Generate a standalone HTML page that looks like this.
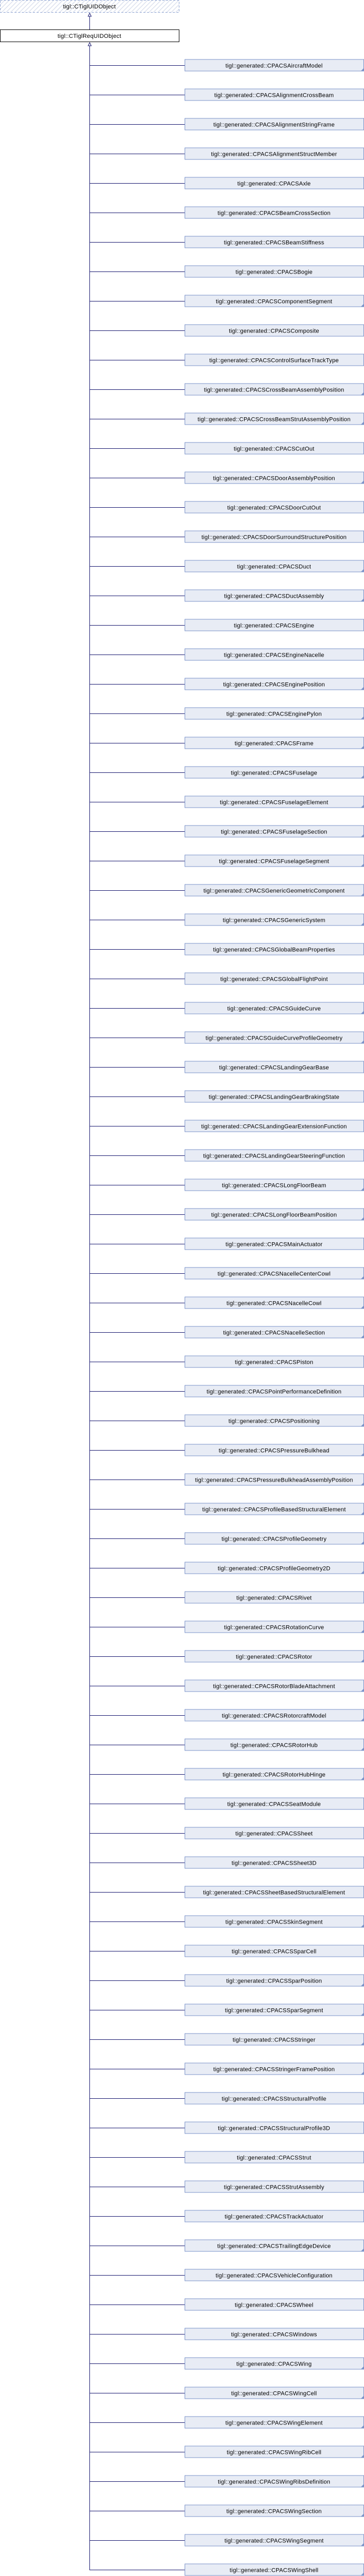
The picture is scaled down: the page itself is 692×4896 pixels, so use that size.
<!DOCTYPE html>
<html><head><meta charset="utf-8"><style>
html,body{margin:0;padding:0;background:#fff;}
svg{display:block;}
text{font-family:"Liberation Sans",sans-serif;font-size:11px;letter-spacing:0.2px;fill:#000;}
.b{fill:#e8ecf5;stroke:#7b93c9;stroke-width:1;}
.f{fill:#7b93c9;}
.c{stroke:#191970;stroke-width:1;fill:none;}
</style></head><body>
<svg width="692" height="4896" viewBox="0 0 692 4896" xmlns="http://www.w3.org/2000/svg">
<defs>
<pattern id="h" width="6" height="6" patternUnits="userSpaceOnUse" patternTransform="rotate(45)">
<rect width="6" height="6" fill="#fff"/><line x1="0" y1="0" x2="0" y2="6" stroke="#dde2ee" stroke-width="3"/>
</pattern>
</defs>
<rect x="0.5" y="0.5" width="340" height="23" fill="url(#h)" stroke="#8aa0d0" stroke-dasharray="4,3"/>
<text x="170" y="16" text-anchor="middle">tigl::CTiglUIDObject</text>
<line class="c" x1="170.5" y1="30" x2="170.5" y2="56"/>
<polygon points="170.5,25 167.5,31 173.5,31" fill="#fff" stroke="#191970"/>
<rect x="0.5" y="56.5" width="340" height="23" fill="#fff" stroke="#000"/>
<text x="170" y="72" text-anchor="middle">tigl::CTiglReqUIDObject</text>
<line class="c" x1="170.5" y1="86" x2="170.5" y2="4884"/>
<polygon points="170.5,81 167.5,87 173.5,87" fill="#fff" stroke="#191970"/>
<g id="rows">
<line class="c" x1="170" y1="124.5" x2="351" y2="124.5"/><rect class="b" x="351.5" y="113" width="340" height="22"/><text x="521" y="128.5" text-anchor="middle">tigl::generated::CPACSAircraftModel</text><polygon class="f" points="691,130 691,135.5 685.5,135.5"/>
<line class="c" x1="170" y1="180.5" x2="351" y2="180.5"/><rect class="b" x="351.5" y="169" width="340" height="22"/><text x="521" y="184.5" text-anchor="middle">tigl::generated::CPACSAlignmentCrossBeam</text>
<line class="c" x1="170" y1="236.5" x2="351" y2="236.5"/><rect class="b" x="351.5" y="225" width="340" height="22"/><text x="521" y="240.5" text-anchor="middle">tigl::generated::CPACSAlignmentStringFrame</text>
<line class="c" x1="170" y1="292.5" x2="351" y2="292.5"/><rect class="b" x="351.5" y="281" width="340" height="22"/><text x="521" y="296.5" text-anchor="middle">tigl::generated::CPACSAlignmentStructMember</text>
<line class="c" x1="170" y1="348.5" x2="351" y2="348.5"/><rect class="b" x="351.5" y="337" width="340" height="22"/><text x="521" y="352.5" text-anchor="middle">tigl::generated::CPACSAxle</text>
<line class="c" x1="170" y1="404.5" x2="351" y2="404.5"/><rect class="b" x="351.5" y="393" width="340" height="22"/><text x="521" y="408.5" text-anchor="middle">tigl::generated::CPACSBeamCrossSection</text>
<line class="c" x1="170" y1="460.5" x2="351" y2="460.5"/><rect class="b" x="351.5" y="449" width="340" height="22"/><text x="521" y="464.5" text-anchor="middle">tigl::generated::CPACSBeamStiffness</text>
<line class="c" x1="170" y1="516.5" x2="351" y2="516.5"/><rect class="b" x="351.5" y="505" width="340" height="22"/><text x="521" y="520.5" text-anchor="middle">tigl::generated::CPACSBogie</text>
<line class="c" x1="170" y1="572.5" x2="351" y2="572.5"/><rect class="b" x="351.5" y="561" width="340" height="22"/><text x="521" y="576.5" text-anchor="middle">tigl::generated::CPACSComponentSegment</text><polygon class="f" points="691,578 691,583.5 685.5,583.5"/>
<line class="c" x1="170" y1="628.5" x2="351" y2="628.5"/><rect class="b" x="351.5" y="617" width="340" height="22"/><text x="521" y="632.5" text-anchor="middle">tigl::generated::CPACSComposite</text>
<line class="c" x1="170" y1="684.5" x2="351" y2="684.5"/><rect class="b" x="351.5" y="673" width="340" height="22"/><text x="521" y="688.5" text-anchor="middle">tigl::generated::CPACSControlSurfaceTrackType</text>
<line class="c" x1="170" y1="740.5" x2="351" y2="740.5"/><rect class="b" x="351.5" y="729" width="340" height="22"/><text x="521" y="744.5" text-anchor="middle">tigl::generated::CPACSCrossBeamAssemblyPosition</text><polygon class="f" points="691,746 691,751.5 685.5,751.5"/>
<line class="c" x1="170" y1="796.5" x2="351" y2="796.5"/><rect class="b" x="351.5" y="785" width="340" height="22"/><text x="521" y="800.5" text-anchor="middle">tigl::generated::CPACSCrossBeamStrutAssemblyPosition</text><polygon class="f" points="691,802 691,807.5 685.5,807.5"/>
<line class="c" x1="170" y1="852.5" x2="351" y2="852.5"/><rect class="b" x="351.5" y="841" width="340" height="22"/><text x="521" y="856.5" text-anchor="middle">tigl::generated::CPACSCutOut</text>
<line class="c" x1="170" y1="908.5" x2="351" y2="908.5"/><rect class="b" x="351.5" y="897" width="340" height="22"/><text x="521" y="912.5" text-anchor="middle">tigl::generated::CPACSDoorAssemblyPosition</text><polygon class="f" points="691,914 691,919.5 685.5,919.5"/>
<line class="c" x1="170" y1="964.5" x2="351" y2="964.5"/><rect class="b" x="351.5" y="953" width="340" height="22"/><text x="521" y="968.5" text-anchor="middle">tigl::generated::CPACSDoorCutOut</text>
<line class="c" x1="170" y1="1020.5" x2="351" y2="1020.5"/><rect class="b" x="351.5" y="1009" width="340" height="22"/><text x="521" y="1024.5" text-anchor="middle">tigl::generated::CPACSDoorSurroundStructurePosition</text>
<line class="c" x1="170" y1="1076.5" x2="351" y2="1076.5"/><rect class="b" x="351.5" y="1065" width="340" height="22"/><text x="521" y="1080.5" text-anchor="middle">tigl::generated::CPACSDuct</text><polygon class="f" points="691,1082 691,1087.5 685.5,1087.5"/>
<line class="c" x1="170" y1="1132.5" x2="351" y2="1132.5"/><rect class="b" x="351.5" y="1121" width="340" height="22"/><text x="521" y="1136.5" text-anchor="middle">tigl::generated::CPACSDuctAssembly</text><polygon class="f" points="691,1138 691,1143.5 685.5,1143.5"/>
<line class="c" x1="170" y1="1188.5" x2="351" y2="1188.5"/><rect class="b" x="351.5" y="1177" width="340" height="22"/><text x="521" y="1192.5" text-anchor="middle">tigl::generated::CPACSEngine</text>
<line class="c" x1="170" y1="1244.5" x2="351" y2="1244.5"/><rect class="b" x="351.5" y="1233" width="340" height="22"/><text x="521" y="1248.5" text-anchor="middle">tigl::generated::CPACSEngineNacelle</text>
<line class="c" x1="170" y1="1300.5" x2="351" y2="1300.5"/><rect class="b" x="351.5" y="1289" width="340" height="22"/><text x="521" y="1304.5" text-anchor="middle">tigl::generated::CPACSEnginePosition</text><polygon class="f" points="691,1306 691,1311.5 685.5,1311.5"/>
<line class="c" x1="170" y1="1356.5" x2="351" y2="1356.5"/><rect class="b" x="351.5" y="1345" width="340" height="22"/><text x="521" y="1360.5" text-anchor="middle">tigl::generated::CPACSEnginePylon</text><polygon class="f" points="691,1362 691,1367.5 685.5,1367.5"/>
<line class="c" x1="170" y1="1412.5" x2="351" y2="1412.5"/><rect class="b" x="351.5" y="1401" width="340" height="22"/><text x="521" y="1416.5" text-anchor="middle">tigl::generated::CPACSFrame</text><polygon class="f" points="691,1418 691,1423.5 685.5,1423.5"/>
<line class="c" x1="170" y1="1468.5" x2="351" y2="1468.5"/><rect class="b" x="351.5" y="1457" width="340" height="22"/><text x="521" y="1472.5" text-anchor="middle">tigl::generated::CPACSFuselage</text><polygon class="f" points="691,1474 691,1479.5 685.5,1479.5"/>
<line class="c" x1="170" y1="1524.5" x2="351" y2="1524.5"/><rect class="b" x="351.5" y="1513" width="340" height="22"/><text x="521" y="1528.5" text-anchor="middle">tigl::generated::CPACSFuselageElement</text><polygon class="f" points="691,1530 691,1535.5 685.5,1535.5"/>
<line class="c" x1="170" y1="1580.5" x2="351" y2="1580.5"/><rect class="b" x="351.5" y="1569" width="340" height="22"/><text x="521" y="1584.5" text-anchor="middle">tigl::generated::CPACSFuselageSection</text><polygon class="f" points="691,1586 691,1591.5 685.5,1591.5"/>
<line class="c" x1="170" y1="1636.5" x2="351" y2="1636.5"/><rect class="b" x="351.5" y="1625" width="340" height="22"/><text x="521" y="1640.5" text-anchor="middle">tigl::generated::CPACSFuselageSegment</text><polygon class="f" points="691,1642 691,1647.5 685.5,1647.5"/>
<line class="c" x1="170" y1="1692.5" x2="351" y2="1692.5"/><rect class="b" x="351.5" y="1681" width="340" height="22"/><text x="521" y="1696.5" text-anchor="middle">tigl::generated::CPACSGenericGeometricComponent</text><polygon class="f" points="691,1698 691,1703.5 685.5,1703.5"/>
<line class="c" x1="170" y1="1748.5" x2="351" y2="1748.5"/><rect class="b" x="351.5" y="1737" width="340" height="22"/><text x="521" y="1752.5" text-anchor="middle">tigl::generated::CPACSGenericSystem</text><polygon class="f" points="691,1754 691,1759.5 685.5,1759.5"/>
<line class="c" x1="170" y1="1804.5" x2="351" y2="1804.5"/><rect class="b" x="351.5" y="1793" width="340" height="22"/><text x="521" y="1808.5" text-anchor="middle">tigl::generated::CPACSGlobalBeamProperties</text>
<line class="c" x1="170" y1="1860.5" x2="351" y2="1860.5"/><rect class="b" x="351.5" y="1849" width="340" height="22"/><text x="521" y="1864.5" text-anchor="middle">tigl::generated::CPACSGlobalFlightPoint</text>
<line class="c" x1="170" y1="1916.5" x2="351" y2="1916.5"/><rect class="b" x="351.5" y="1905" width="340" height="22"/><text x="521" y="1920.5" text-anchor="middle">tigl::generated::CPACSGuideCurve</text><polygon class="f" points="691,1922 691,1927.5 685.5,1927.5"/>
<line class="c" x1="170" y1="1972.5" x2="351" y2="1972.5"/><rect class="b" x="351.5" y="1961" width="340" height="22"/><text x="521" y="1976.5" text-anchor="middle">tigl::generated::CPACSGuideCurveProfileGeometry</text><polygon class="f" points="691,1978 691,1983.5 685.5,1983.5"/>
<line class="c" x1="170" y1="2028.5" x2="351" y2="2028.5"/><rect class="b" x="351.5" y="2017" width="340" height="22"/><text x="521" y="2032.5" text-anchor="middle">tigl::generated::CPACSLandingGearBase</text>
<line class="c" x1="170" y1="2084.5" x2="351" y2="2084.5"/><rect class="b" x="351.5" y="2073" width="340" height="22"/><text x="521" y="2088.5" text-anchor="middle">tigl::generated::CPACSLandingGearBrakingState</text>
<line class="c" x1="170" y1="2140.5" x2="351" y2="2140.5"/><rect class="b" x="351.5" y="2129" width="340" height="22"/><text x="521" y="2144.5" text-anchor="middle">tigl::generated::CPACSLandingGearExtensionFunction</text>
<line class="c" x1="170" y1="2196.5" x2="351" y2="2196.5"/><rect class="b" x="351.5" y="2185" width="340" height="22"/><text x="521" y="2200.5" text-anchor="middle">tigl::generated::CPACSLandingGearSteeringFunction</text>
<line class="c" x1="170" y1="2252.5" x2="351" y2="2252.5"/><rect class="b" x="351.5" y="2241" width="340" height="22"/><text x="521" y="2256.5" text-anchor="middle">tigl::generated::CPACSLongFloorBeam</text><polygon class="f" points="691,2258 691,2263.5 685.5,2263.5"/>
<line class="c" x1="170" y1="2308.5" x2="351" y2="2308.5"/><rect class="b" x="351.5" y="2297" width="340" height="22"/><text x="521" y="2312.5" text-anchor="middle">tigl::generated::CPACSLongFloorBeamPosition</text><polygon class="f" points="691,2314 691,2319.5 685.5,2319.5"/>
<line class="c" x1="170" y1="2364.5" x2="351" y2="2364.5"/><rect class="b" x="351.5" y="2353" width="340" height="22"/><text x="521" y="2368.5" text-anchor="middle">tigl::generated::CPACSMainActuator</text>
<line class="c" x1="170" y1="2420.5" x2="351" y2="2420.5"/><rect class="b" x="351.5" y="2409" width="340" height="22"/><text x="521" y="2424.5" text-anchor="middle">tigl::generated::CPACSNacelleCenterCowl</text><polygon class="f" points="691,2426 691,2431.5 685.5,2431.5"/>
<line class="c" x1="170" y1="2476.5" x2="351" y2="2476.5"/><rect class="b" x="351.5" y="2465" width="340" height="22"/><text x="521" y="2480.5" text-anchor="middle">tigl::generated::CPACSNacelleCowl</text><polygon class="f" points="691,2482 691,2487.5 685.5,2487.5"/>
<line class="c" x1="170" y1="2532.5" x2="351" y2="2532.5"/><rect class="b" x="351.5" y="2521" width="340" height="22"/><text x="521" y="2536.5" text-anchor="middle">tigl::generated::CPACSNacelleSection</text><polygon class="f" points="691,2538 691,2543.5 685.5,2543.5"/>
<line class="c" x1="170" y1="2588.5" x2="351" y2="2588.5"/><rect class="b" x="351.5" y="2577" width="340" height="22"/><text x="521" y="2592.5" text-anchor="middle">tigl::generated::CPACSPiston</text>
<line class="c" x1="170" y1="2644.5" x2="351" y2="2644.5"/><rect class="b" x="351.5" y="2633" width="340" height="22"/><text x="521" y="2648.5" text-anchor="middle">tigl::generated::CPACSPointPerformanceDefinition</text>
<line class="c" x1="170" y1="2700.5" x2="351" y2="2700.5"/><rect class="b" x="351.5" y="2689" width="340" height="22"/><text x="521" y="2704.5" text-anchor="middle">tigl::generated::CPACSPositioning</text><polygon class="f" points="691,2706 691,2711.5 685.5,2711.5"/>
<line class="c" x1="170" y1="2756.5" x2="351" y2="2756.5"/><rect class="b" x="351.5" y="2745" width="340" height="22"/><text x="521" y="2760.5" text-anchor="middle">tigl::generated::CPACSPressureBulkhead</text><polygon class="f" points="691,2762 691,2767.5 685.5,2767.5"/>
<line class="c" x1="170" y1="2812.5" x2="351" y2="2812.5"/><rect class="b" x="351.5" y="2801" width="340" height="22"/><text x="521" y="2816.5" text-anchor="middle">tigl::generated::CPACSPressureBulkheadAssemblyPosition</text><polygon class="f" points="691,2818 691,2823.5 685.5,2823.5"/>
<line class="c" x1="170" y1="2868.5" x2="351" y2="2868.5"/><rect class="b" x="351.5" y="2857" width="340" height="22"/><text x="521" y="2872.5" text-anchor="middle">tigl::generated::CPACSProfileBasedStructuralElement</text><polygon class="f" points="691,2874 691,2879.5 685.5,2879.5"/>
<line class="c" x1="170" y1="2924.5" x2="351" y2="2924.5"/><rect class="b" x="351.5" y="2913" width="340" height="22"/><text x="521" y="2928.5" text-anchor="middle">tigl::generated::CPACSProfileGeometry</text><polygon class="f" points="691,2930 691,2935.5 685.5,2935.5"/>
<line class="c" x1="170" y1="2980.5" x2="351" y2="2980.5"/><rect class="b" x="351.5" y="2969" width="340" height="22"/><text x="521" y="2984.5" text-anchor="middle">tigl::generated::CPACSProfileGeometry2D</text><polygon class="f" points="691,2986 691,2991.5 685.5,2991.5"/>
<line class="c" x1="170" y1="3036.5" x2="351" y2="3036.5"/><rect class="b" x="351.5" y="3025" width="340" height="22"/><text x="521" y="3040.5" text-anchor="middle">tigl::generated::CPACSRivet</text>
<line class="c" x1="170" y1="3092.5" x2="351" y2="3092.5"/><rect class="b" x="351.5" y="3081" width="340" height="22"/><text x="521" y="3096.5" text-anchor="middle">tigl::generated::CPACSRotationCurve</text><polygon class="f" points="691,3098 691,3103.5 685.5,3103.5"/>
<line class="c" x1="170" y1="3148.5" x2="351" y2="3148.5"/><rect class="b" x="351.5" y="3137" width="340" height="22"/><text x="521" y="3152.5" text-anchor="middle">tigl::generated::CPACSRotor</text><polygon class="f" points="691,3154 691,3159.5 685.5,3159.5"/>
<line class="c" x1="170" y1="3204.5" x2="351" y2="3204.5"/><rect class="b" x="351.5" y="3193" width="340" height="22"/><text x="521" y="3208.5" text-anchor="middle">tigl::generated::CPACSRotorBladeAttachment</text><polygon class="f" points="691,3210 691,3215.5 685.5,3215.5"/>
<line class="c" x1="170" y1="3260.5" x2="351" y2="3260.5"/><rect class="b" x="351.5" y="3249" width="340" height="22"/><text x="521" y="3264.5" text-anchor="middle">tigl::generated::CPACSRotorcraftModel</text><polygon class="f" points="691,3266 691,3271.5 685.5,3271.5"/>
<line class="c" x1="170" y1="3316.5" x2="351" y2="3316.5"/><rect class="b" x="351.5" y="3305" width="340" height="22"/><text x="521" y="3320.5" text-anchor="middle">tigl::generated::CPACSRotorHub</text><polygon class="f" points="691,3322 691,3327.5 685.5,3327.5"/>
<line class="c" x1="170" y1="3372.5" x2="351" y2="3372.5"/><rect class="b" x="351.5" y="3361" width="340" height="22"/><text x="521" y="3376.5" text-anchor="middle">tigl::generated::CPACSRotorHubHinge</text><polygon class="f" points="691,3378 691,3383.5 685.5,3383.5"/>
<line class="c" x1="170" y1="3428.5" x2="351" y2="3428.5"/><rect class="b" x="351.5" y="3417" width="340" height="22"/><text x="521" y="3432.5" text-anchor="middle">tigl::generated::CPACSSeatModule</text>
<line class="c" x1="170" y1="3484.5" x2="351" y2="3484.5"/><rect class="b" x="351.5" y="3473" width="340" height="22"/><text x="521" y="3488.5" text-anchor="middle">tigl::generated::CPACSSheet</text>
<line class="c" x1="170" y1="3540.5" x2="351" y2="3540.5"/><rect class="b" x="351.5" y="3529" width="340" height="22"/><text x="521" y="3544.5" text-anchor="middle">tigl::generated::CPACSSheet3D</text>
<line class="c" x1="170" y1="3596.5" x2="351" y2="3596.5"/><rect class="b" x="351.5" y="3585" width="340" height="22"/><text x="521" y="3600.5" text-anchor="middle">tigl::generated::CPACSSheetBasedStructuralElement</text>
<line class="c" x1="170" y1="3652.5" x2="351" y2="3652.5"/><rect class="b" x="351.5" y="3641" width="340" height="22"/><text x="521" y="3656.5" text-anchor="middle">tigl::generated::CPACSSkinSegment</text><polygon class="f" points="691,3658 691,3663.5 685.5,3663.5"/>
<line class="c" x1="170" y1="3708.5" x2="351" y2="3708.5"/><rect class="b" x="351.5" y="3697" width="340" height="22"/><text x="521" y="3712.5" text-anchor="middle">tigl::generated::CPACSSparCell</text>
<line class="c" x1="170" y1="3764.5" x2="351" y2="3764.5"/><rect class="b" x="351.5" y="3753" width="340" height="22"/><text x="521" y="3768.5" text-anchor="middle">tigl::generated::CPACSSparPosition</text><polygon class="f" points="691,3770 691,3775.5 685.5,3775.5"/>
<line class="c" x1="170" y1="3820.5" x2="351" y2="3820.5"/><rect class="b" x="351.5" y="3809" width="340" height="22"/><text x="521" y="3824.5" text-anchor="middle">tigl::generated::CPACSSparSegment</text><polygon class="f" points="691,3826 691,3831.5 685.5,3831.5"/>
<line class="c" x1="170" y1="3876.5" x2="351" y2="3876.5"/><rect class="b" x="351.5" y="3865" width="340" height="22"/><text x="521" y="3880.5" text-anchor="middle">tigl::generated::CPACSStringer</text><polygon class="f" points="691,3882 691,3887.5 685.5,3887.5"/>
<line class="c" x1="170" y1="3932.5" x2="351" y2="3932.5"/><rect class="b" x="351.5" y="3921" width="340" height="22"/><text x="521" y="3936.5" text-anchor="middle">tigl::generated::CPACSStringerFramePosition</text><polygon class="f" points="691,3938 691,3943.5 685.5,3943.5"/>
<line class="c" x1="170" y1="3988.5" x2="351" y2="3988.5"/><rect class="b" x="351.5" y="3977" width="340" height="22"/><text x="521" y="3992.5" text-anchor="middle">tigl::generated::CPACSStructuralProfile</text>
<line class="c" x1="170" y1="4044.5" x2="351" y2="4044.5"/><rect class="b" x="351.5" y="4033" width="340" height="22"/><text x="521" y="4048.5" text-anchor="middle">tigl::generated::CPACSStructuralProfile3D</text>
<line class="c" x1="170" y1="4100.5" x2="351" y2="4100.5"/><rect class="b" x="351.5" y="4089" width="340" height="22"/><text x="521" y="4104.5" text-anchor="middle">tigl::generated::CPACSStrut</text>
<line class="c" x1="170" y1="4156.5" x2="351" y2="4156.5"/><rect class="b" x="351.5" y="4145" width="340" height="22"/><text x="521" y="4160.5" text-anchor="middle">tigl::generated::CPACSStrutAssembly</text>
<line class="c" x1="170" y1="4212.5" x2="351" y2="4212.5"/><rect class="b" x="351.5" y="4201" width="340" height="22"/><text x="521" y="4216.5" text-anchor="middle">tigl::generated::CPACSTrackActuator</text>
<line class="c" x1="170" y1="4268.5" x2="351" y2="4268.5"/><rect class="b" x="351.5" y="4257" width="340" height="22"/><text x="521" y="4272.5" text-anchor="middle">tigl::generated::CPACSTrailingEdgeDevice</text><polygon class="f" points="691,4274 691,4279.5 685.5,4279.5"/>
<line class="c" x1="170" y1="4324.5" x2="351" y2="4324.5"/><rect class="b" x="351.5" y="4313" width="340" height="22"/><text x="521" y="4328.5" text-anchor="middle">tigl::generated::CPACSVehicleConfiguration</text>
<line class="c" x1="170" y1="4380.5" x2="351" y2="4380.5"/><rect class="b" x="351.5" y="4369" width="340" height="22"/><text x="521" y="4384.5" text-anchor="middle">tigl::generated::CPACSWheel</text>
<line class="c" x1="170" y1="4436.5" x2="351" y2="4436.5"/><rect class="b" x="351.5" y="4425" width="340" height="22"/><text x="521" y="4440.5" text-anchor="middle">tigl::generated::CPACSWindows</text>
<line class="c" x1="170" y1="4492.5" x2="351" y2="4492.5"/><rect class="b" x="351.5" y="4481" width="340" height="22"/><text x="521" y="4496.5" text-anchor="middle">tigl::generated::CPACSWing</text><polygon class="f" points="691,4498 691,4503.5 685.5,4503.5"/>
<line class="c" x1="170" y1="4548.5" x2="351" y2="4548.5"/><rect class="b" x="351.5" y="4537" width="340" height="22"/><text x="521" y="4552.5" text-anchor="middle">tigl::generated::CPACSWingCell</text><polygon class="f" points="691,4554 691,4559.5 685.5,4559.5"/>
<line class="c" x1="170" y1="4604.5" x2="351" y2="4604.5"/><rect class="b" x="351.5" y="4593" width="340" height="22"/><text x="521" y="4608.5" text-anchor="middle">tigl::generated::CPACSWingElement</text><polygon class="f" points="691,4610 691,4615.5 685.5,4615.5"/>
<line class="c" x1="170" y1="4660.5" x2="351" y2="4660.5"/><rect class="b" x="351.5" y="4649" width="340" height="22"/><text x="521" y="4664.5" text-anchor="middle">tigl::generated::CPACSWingRibCell</text><polygon class="f" points="691,4666 691,4671.5 685.5,4671.5"/>
<line class="c" x1="170" y1="4716.5" x2="351" y2="4716.5"/><rect class="b" x="351.5" y="4705" width="340" height="22"/><text x="521" y="4720.5" text-anchor="middle">tigl::generated::CPACSWingRibsDefinition</text><polygon class="f" points="691,4722 691,4727.5 685.5,4727.5"/>
<line class="c" x1="170" y1="4772.5" x2="351" y2="4772.5"/><rect class="b" x="351.5" y="4761" width="340" height="22"/><text x="521" y="4776.5" text-anchor="middle">tigl::generated::CPACSWingSection</text><polygon class="f" points="691,4778 691,4783.5 685.5,4783.5"/>
<line class="c" x1="170" y1="4828.5" x2="351" y2="4828.5"/><rect class="b" x="351.5" y="4817" width="340" height="22"/><text x="521" y="4832.5" text-anchor="middle">tigl::generated::CPACSWingSegment</text><polygon class="f" points="691,4834 691,4839.5 685.5,4839.5"/>
<line class="c" x1="170" y1="4884.5" x2="351" y2="4884.5"/><rect class="b" x="351.5" y="4873" width="340" height="22"/><text x="521" y="4888.5" text-anchor="middle">tigl::generated::CPACSWingShell</text><polygon class="f" points="691,4890 691,4895.5 685.5,4895.5"/>
</g>
</svg>
</body></html>
